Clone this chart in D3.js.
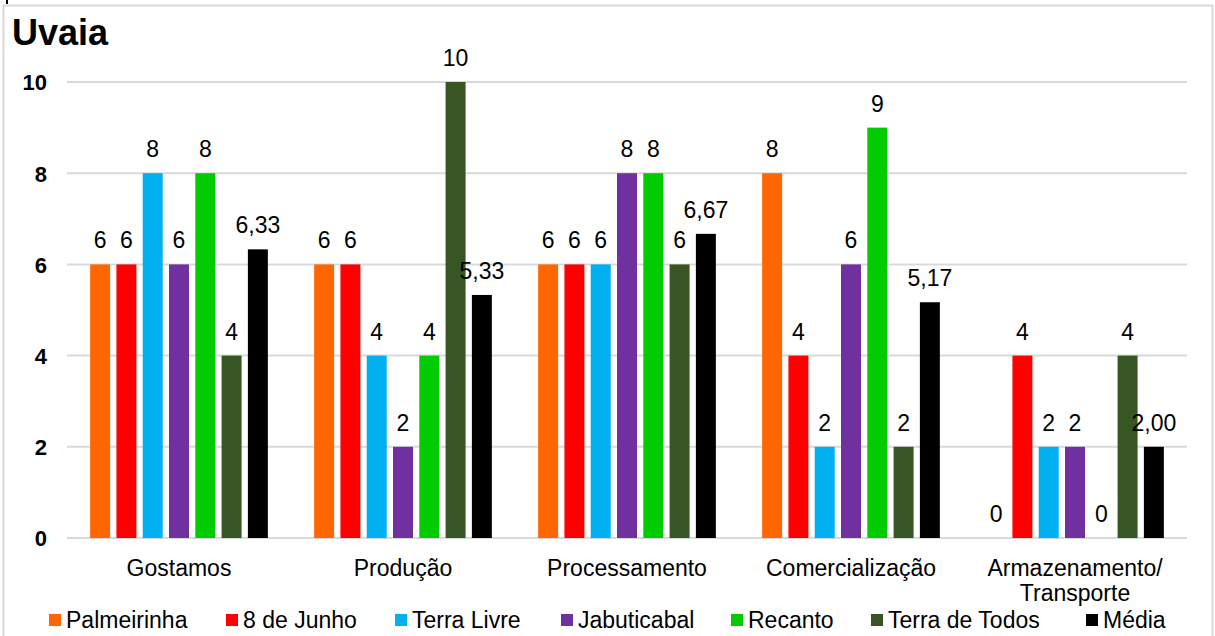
<!DOCTYPE html>
<html>
<head>
<meta charset="utf-8">
<script src="https://cdn.jsdelivr.net/npm/d3@7"></script>
<style>
	body { margin: 0; background: #fff; }
	text { font-family: "Liberation Sans", Arial, sans-serif; fill: #000; }
</style>
</head>
<body>
<div id="chart"></div>
<script>
// Chart data
var categories = ["Gostamos", "Produção", "Processamento", "Comercialização", "Armazenamento/\nTransporte"];
var seriesNames = ["Palmeirinha", "8 de Junho", "Terra Livre", "Jabuticabal", "Recanto", "Terra de Todos", "Média"];
var seriesColors = ["#FF6600", "#FF0000", "#00B0F0", "#7030A0", "#00CC00", "#375623", "#000000"];
var palmeirinha = [6, 6, 6, 8, 0];
var junho8 = [6, 6, 6, 4, 4];
var terraLivre = [8, 4, 6, 2, 2];
var jabuticabal = [6, 2, 8, 6, 2];
var recanto = [8, 4, 8, 9, 0];
var terraDeTodos = [4, 10, 6, 2, 4];
var media = [6.33, 5.33, 6.67, 5.17, 2.00];
var yTicks = [0, 2, 4, 6, 8, 10];

var seriesValues = [palmeirinha, junho8, terraLivre, jabuticabal, recanto, terraDeTodos, media];

var width = 1215, height = 636;
var margin = { top: 82, right: 28, bottom: 98, left: 67 };
var innerW = width - margin.left - margin.right;
var innerH = height - margin.top - margin.bottom;

var svg = d3.select("#chart").append("svg")
	.attr("width", width)
	.attr("height", height);

// outer frame
svg.append("rect")
	.attr("x", 3.5).attr("y", 5.5)
	.attr("width", 1209).attr("height", 640)
	.attr("fill", "none")
	.attr("stroke", "#d9d9d9")
	.attr("stroke-width", 2);
svg.append("line")
	.attr("x1", 7).attr("x2", 7).attr("y1", 0).attr("y2", 4)
	.attr("stroke", "#000").attr("stroke-width", 2);

svg.append("text")
	.attr("x", 12).attr("y", 45)
	.style("font-size", "36px")
	.style("font-weight", "bold")
	.text("Uvaia");

var g = svg.append("g")
	.attr("transform", "translate(" + margin.left + "," + margin.top + ")");

// Scales
var x0 = d3.scaleBand().domain(categories).range([0, innerW]).padding(0);
var x1 = d3.scaleBand().domain(seriesNames).range([0, x0.bandwidth()])
	.paddingInner(0.24).paddingOuter(0.88);
var y = d3.scaleLinear().domain([0, 10]).range([innerH, 0]);

// gridlines
g.selectAll(".grid").data(yTicks).enter()
	.append("line")
	.attr("class", "grid")
	.attr("x1", 0).attr("x2", innerW)
	.attr("y1", (d) => y(d)).attr("y2", (d) => y(d))
	.attr("stroke", "#d9d9d9")
	.attr("stroke-width", 2);

// y axis labels
var yAxis = g.append("g")
	.call(d3.axisLeft(y).tickValues(yTicks).tickSize(0).tickPadding(20));
yAxis.select(".domain").remove();
yAxis.selectAll("text")
	.style("font-size", "22px")
	.style("font-weight", "bold")
	.style("font-family", "\"Liberation Sans\", Arial, sans-serif")
	.attr("fill", "#000")
	.attr("dy", "0.36em");

// bars
var groups = g.selectAll(".group").data(categories).enter()
	.append("g")
	.attr("class", "group")
	.attr("transform", (d) => "translate(" + x0(d) + ",0)");

groups.each(function (cat, ci) {
	var rows = seriesNames.map((s, si) => ({ name: s, value: seriesValues[si][ci], color: seriesColors[si], media: si == 6 }));
	var grp = d3.select(this);
	grp.selectAll("rect").data(rows).enter()
		.append("rect")
		.attr("x", (d) => x1(d.name))
		.attr("width", x1.bandwidth())
		.attr("y", (d) => y(d.value))
		.attr("height", (d) => innerH - y(d.value))
		.attr("fill", (d) => d.color);
	grp.selectAll(".lbl").data(rows).enter()
		.append("text")
		.attr("class", "lbl")
		.attr("x", (d) => x1(d.name) + x1.bandwidth() / 2)
		.attr("y", (d) => y(d.value) - 16)
		.attr("text-anchor", "middle")
		.style("font-size", "23px")
		.text((d) => d.media ? d3.format(".2f")(d.value).replace(".", ",") : d.value);
});

// x axis labels
var xl = g.selectAll(".xlabel").data(categories).enter()
	.append("text")
	.attr("class", "xlabel")
	.attr("text-anchor", "middle")
	.style("font-size", "23px")
	.attr("transform", (d) => "translate(" + (x0(d) + x0.bandwidth() / 2) + "," + (innerH + 38) + ")");
xl.selectAll("tspan").data((d) => d.split("\n")).enter()
	.append("tspan")
	.attr("x", 0)
	.attr("dy", (d, i) => i == 0 ? 0 : 25)
	.text((d) => d);

// legend
var legendX = [49, 226, 395, 561, 731, 871, 1086];
var legend = svg.selectAll(".legend").data(seriesNames).enter()
	.append("g")
	.attr("class", "legend")
	.attr("transform", (d, i) => "translate(" + legendX[i] + ",614)");
legend.append("rect")
	.attr("width", 12).attr("height", 12)
	.attr("fill", (d, i) => seriesColors[i]);
legend.append("text")
	.attr("x", 17).attr("y", 14)
	.style("font-size", "23px")
	.text((d) => d);
</script>
</body>
</html>
